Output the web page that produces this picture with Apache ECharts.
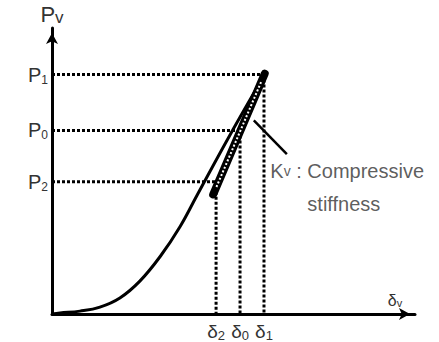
<!DOCTYPE html>
<html>
<head>
<meta charset="utf-8">
<script src="https://cdn.jsdelivr.net/npm/echarts@6/dist/echarts.min.js"></script>
<style>
html,body{margin:0;padding:0;background:#fff;}
#chart{width:439px;height:342px;}
</style>
</head>
<body>
<div id="chart"></div>
<script>
// load levels and displacements (arbitrary units, 0-100 on both axes)
var loadSubs = ['2', '0', '1'];
var loadValues = [46.2, 64.2, 83.7];
var dispSubs = ['2', '0', '1'];
var dispValues = [45.2, 51.8, 58.4];

// loading curve
var curveX = [0, 2.2, 7.7, 13.2, 18.7, 24.2, 29.8, 35.3, 40.0, 49.0, 58.9];
var curveY = [0, 0.35, 1.0, 2.4, 5.6, 11.5, 20.1, 30.6, 41.6, 62.5, 84.4];

// unloading / reloading loop (narrow lens)
var loopX = [44.4, 58.6];
var loopY = [41.8, 84.0];

// pointer to the loop
var leaderX = [55.6, 64.7];
var leaderY = [67.7, 55.9];

var txt = '#333';
var font = 'Liberation Sans, Arial, sans-serif';

function pairs(xs, ys) {
    var out = [];
    for (var i = 0; i < xs.length; i++) out.push([xs[i], ys[i]]);
    return out;
}

// dotted guides: horizontal from the y axis, vertical down to the x axis
var guides = [];
for (var i = 0; i < loadValues.length; i++) {
    guides.push([[0, loadValues[i]], [dispValues[i], loadValues[i]]]);
    guides.push([[dispValues[i], loadValues[i]], [dispValues[i], 0]]);
}

var dotted = guides.map(function (g) {
    return {
        type: 'line', data: g, symbol: 'none', silent: true,
        lineStyle: {color: '#000', width: 3, type: [3, 2]}
    };
});

var myChart = echarts.init(document.getElementById('chart'), null, {renderer: 'svg'});
var option = {
    animation: false,
    grid: {left: 52, right: 24, top: 28, bottom: 26},
    xAxis: {
        type: 'value', min: 0, max: 100,
        name: '{d|δ}{v|v}',
        nameLocation: 'end',
        nameGap: -20,
        nameTextStyle: {
            verticalAlign: 'bottom', align: 'center', padding: [0, 0, 6, 0],
            rich: {
                d: {fontSize: 16, color: txt, fontFamily: font},
                v: {fontSize: 11, color: txt, fontFamily: font, verticalAlign: 'bottom'}
            }
        },
        axisLine: {
            lineStyle: {color: '#000', width: 3},
            symbol: ['none', 'arrow'], symbolSize: [9, 11], symbolOffset: [0, -5]
        },
        axisTick: {show: false},
        splitLine: {show: false},
        axisLabel: {
            customValues: dispValues,
            margin: 6,
            formatter: function (v) {
                var k = dispValues.indexOf(v);
                return '{d|δ}{s|' + dispSubs[k] + '}';
            },
            rich: {
                d: {fontSize: 19, color: txt, fontFamily: font, lineHeight: 22},
                s: {fontSize: 13, color: txt, fontFamily: font, lineHeight: 22, verticalAlign: 'bottom'}
            }
        }
    },
    yAxis: {
        type: 'value', min: 0, max: 100,
        name: '{p|P}{v|v}',
        nameLocation: 'end',
        nameGap: 2,
        nameTextStyle: {
            rich: {
                p: {fontSize: 22, color: txt, fontFamily: font, lineHeight: 24},
                v: {fontSize: 17, color: txt, fontFamily: font, lineHeight: 24, verticalAlign: 'bottom'}
            }
        },
        axisLine: {
            lineStyle: {color: '#000', width: 3},
            symbol: ['none', 'arrow'], symbolSize: [9, 11], symbolOffset: [0, -5]
        },
        axisTick: {show: false},
        splitLine: {show: false},
        axisLabel: {
            customValues: loadValues,
            margin: 4,
            formatter: function (v) {
                var k = loadValues.indexOf(v);
                return '{p|P}{s|' + loadSubs[k] + '}';
            },
            rich: {
                p: {fontSize: 20, color: txt, fontFamily: font, lineHeight: 22},
                s: {fontSize: 12, color: txt, fontFamily: font, lineHeight: 22, verticalAlign: 'bottom'}
            }
        }
    },
    series: dotted.concat([
        {
            type: 'line', data: pairs(curveX, curveY), symbol: 'none', smooth: 0.4, silent: true,
            lineStyle: {color: '#000', width: 3}
        },
        {
            type: 'line', data: pairs(loopX, loopY), symbol: 'none', silent: true,
            lineStyle: {color: '#000', width: 8, cap: 'round'}
        },
        {
            type: 'line', data: pairs([loopX[0] + 0.9, loopX[1] - 0.9], [loopY[0] + 2.6, loopY[1] - 2.6]),
            symbol: 'none', silent: true,
            lineStyle: {color: '#fff', width: 2, type: [2, 2]}
        },
        {
            type: 'line', data: pairs(leaderX, leaderY), symbol: 'none', silent: true,
            lineStyle: {color: '#000', width: 2.5}
        },
        {
            type: 'scatter', symbolSize: 1, silent: true,
            itemStyle: {color: 'transparent'},
            data: [[leaderX[1], leaderY[1]]],
            label: {
                show: true,
                position: [-16, 2],
                align: 'left', verticalAlign: 'top',
                formatter: '{k|K}{v|v}{t| : Compressive}\n{s|stiffness}',
                rich: {
                    k: {fontSize: 20, color: txt, fontFamily: font, lineHeight: 31},
                    v: {fontSize: 14, color: txt, fontFamily: font, lineHeight: 31},
                    t: {fontSize: 20, color: txt, fontFamily: font, lineHeight: 31},
                    s: {fontSize: 20, color: txt, fontFamily: font, lineHeight: 31, padding: [4, 0, 0, 37]}
                }
            }
        }
    ])
};
myChart.setOption(option);
window.addEventListener('resize', function () {myChart.resize();});
</script>
</body>
</html>
